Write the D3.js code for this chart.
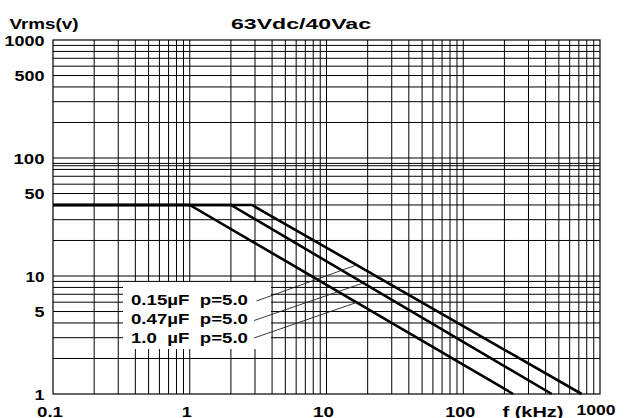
<!DOCTYPE html>
<html><head><meta charset="utf-8">
<script src="https://cdn.jsdelivr.net/npm/d3@7"></script>
<style>
html,body{margin:0;padding:0;background:#fff;}
svg{display:block;}
text{font-family:"Liberation Sans",Arial,sans-serif;font-weight:bold;fill:#000;white-space:pre;}
</style></head>
<body>
<svg id="c" width="625" height="418"></svg>
<script>
// ---- data ----
const title = "63Vdc/40Vac";
const yAxisTitle = "Vrms(v)";
const xAxisTitle = "f (kHz)";
const freqTicks = [0.1, 1, 10, 100, 1000];
const freqTickLabels = ["0.1", "1", "10", "100", "1000"];
const voltTicks = [1000, 500, 100, 50, 10, 5, 1];
const voltTickLabels = ["1000", "500", "100", "50", "10", "5", "1"];
const freqGrid = [0.2,0.3,0.4,0.5,0.6,0.7,0.8,0.9,1,2,3,4,5,6,7,8,9,10,20,30,40,50,60,70,80,90,100,200,300,400,500,600,700,800,900];
const voltGrid = [2,3,4,5,6,7,8,9,10,20,30,40,50,60,70,80,86,90,100,200,300,400,500,600,700,800,900];
const seriesNames = ["0.15\u00b5F  p=5.0", "0.47\u00b5F  p=5.0", "1.0  \u00b5F  p=5.0"];
const curve015 = [[0.1, 40], [2.85, 40], [735, 1]];
const curve047 = [[0.1, 40], [2.0, 40], [444, 1]];
const curve10  = [[0.1, 40], [1.0, 40], [232, 1]];
const leaderFreqs = [16.6, 18.6, 16.6];

// ---- layout ----
const svg = d3.select("#c");
const L = 53, R = 600, T = 40, B = 394;
const x = d3.scaleLog().domain([0.1, 1000]).range([L, R]);
const y = d3.scaleLog().domain([1, 1000]).range([B, T]);

// grid
const g = svg.append("g");
g.selectAll("line.v").data(freqGrid).join("line")
  .attr("x1", d => x(d)).attr("x2", d => x(d)).attr("y1", T).attr("y2", B)
  .attr("stroke", "#000").attr("stroke-width", 1);
g.selectAll("line.h").data(voltGrid).join("line")
  .attr("y1", d => y(d)).attr("y2", d => y(d)).attr("x1", L).attr("x2", R)
  .attr("stroke", "#000").attr("stroke-width", 1);
svg.append("rect").attr("x", L).attr("y", T).attr("width", R - L).attr("height", B - T)
  .attr("fill", "none").attr("stroke", "#000").attr("stroke-width", 1.2);

// legend background
svg.append("rect").attr("x", 123).attr("y", 282).attr("width", 148).attr("height", 67).attr("fill", "#fff");

// curves
const curves = [curve015, curve047, curve10];
const line = d3.line().x(d => x(d[0])).y(d => y(d[1]));
svg.selectAll("path.curve").data(curves).join("path")
  .attr("d", line).attr("fill", "none").attr("stroke", "#000").attr("stroke-width", 2.6);

// helper: value of a curve at frequency f (log-log interpolation)
function valAt(curve, f) {
  for (let i = 0; i < curve.length - 1; i++) {
    const [f0, v0] = curve[i], [f1, v1] = curve[i + 1];
    if (f >= f0 && f <= f1) {
      const t = (Math.log(f) - Math.log(f0)) / (Math.log(f1) - Math.log(f0));
      return Math.exp(Math.log(v0) + t * (Math.log(v1) - Math.log(v0)));
    }
  }
  return curve[curve.length - 1][1];
}

// legend text + leaders
const legendY = [305, 324, 342.5];
const leaderStart = [[256.5, 301], [254, 320.5], [254, 338]];
seriesNames.forEach((name, i) => {
  svg.append("text").attr("x", 131).attr("y", legendY[i]).attr("font-size", 14.5)
    .attr("xml:space", "preserve")
    .attr("textLength", 117).attr("lengthAdjust", "spacingAndGlyphs").text(name);
  const f = leaderFreqs[i];
  svg.append("line").attr("x1", leaderStart[i][0]).attr("y1", leaderStart[i][1])
    .attr("x2", x(f)).attr("y2", y(valAt(curves[i], f)))
    .attr("stroke", "#222").attr("stroke-width", 0.9);
});

// y tick labels
const yLabW = {"1000": 40, "500": 30, "100": 31, "50": 20, "10": 19, "5": 10, "1": 10};
voltTicks.forEach((v, i) => {
  const lab = voltTickLabels[i];
  svg.append("text").attr("x", 44.5).attr("y", y(v) + 5.6).attr("text-anchor", "end")
    .attr("font-size", 14.5).attr("textLength", yLabW[lab]).attr("lengthAdjust", "spacingAndGlyphs").text(lab);
});

// x tick labels
const xLabW = {"0.1": 26, "1": 10, "10": 21, "100": 30, "1000": 39};
freqTicks.forEach((f, i) => {
  const lab = freqTickLabels[i];
  svg.append("text").attr("x", x(f) - (f === 1000 ? 4 : 3)).attr("y", f === 1000 ? 415 : 416.5)
    .attr("text-anchor", "middle").attr("font-size", 14.5)
    .attr("textLength", xLabW[lab]).attr("lengthAdjust", "spacingAndGlyphs").text(lab);
});

// axis titles
svg.append("text").attr("x", 533).attr("y", 416.5).attr("text-anchor", "middle").attr("font-size", 14.5)
  .attr("textLength", 61).attr("lengthAdjust", "spacingAndGlyphs").text(xAxisTitle);
svg.append("text").attr("x", 9.5).attr("y", 29).attr("font-size", 15)
  .attr("textLength", 69).attr("lengthAdjust", "spacingAndGlyphs").text(yAxisTitle);
svg.append("text").attr("x", 301).attr("y", 28.5).attr("text-anchor", "middle").attr("font-size", 15.5)
  .attr("textLength", 140).attr("lengthAdjust", "spacingAndGlyphs").text(title);
</script>
</body></html>
